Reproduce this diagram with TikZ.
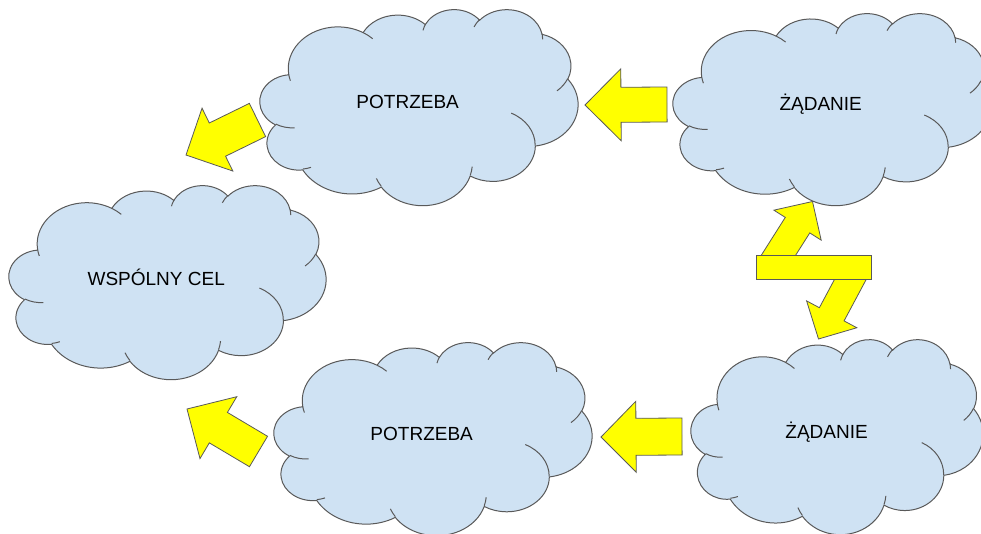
\documentclass[tikz,border=0pt]{standalone}
\usepackage{fontspec}
\setmainfont{Liberation Sans}
\usetikzlibrary{calc}
\definecolor{cloudfill}{HTML}{CFE2F3}
\definecolor{outline}{HTML}{595959}
\definecolor{arrowfill}{HTML}{FFFF00}
\tikzset{
  cloudshape/.style={fill=cloudfill, draw=outline, line width=1pt},
  cloudinner/.style={draw=outline, line width=1pt},
  cloudtext/.style={font=\fontsize{19}{22}\selectfont, text=black, inner sep=0pt},
  blockarrow/.style={fill=arrowfill, draw=outline, line width=0.8pt, line join=miter},
  barbox/.style={fill=arrowfill, draw=outline, line width=0.8pt, inner sep=0pt},
}
% arc of the cloud outline: x radius, y radius, visual start angle, sweep
\newcommand\carc[4]{arc[x radius=#1, y radius=#2,
  start angle={atan2(#1*sin(#3),#2*cos(#3))},
  delta angle={mod(atan2(#1*sin(#3+#4),#2*cos(#3+#4))-atan2(#1*sin(#3),#2*cos(#3))+720,360)}]}
% cloud: name, left, top, width, height, text
\newcommand\cloudat[6]{%
  \pgfmathsetmacro\cloudw{#4/43.2}%
  \pgfmathsetmacro\cloudh{#5/43.2}%
  \begin{scope}[shift={(#2,#3)}, x=\cloudw pt, y=-\cloudh pt]
    \path[cloudshape] (3.900,14.370)
      \carc{6.753}{9.190}{-190.48748}{123.78053}
      \carc{5.333}{7.267}{-144.10238}{89.94523}
      \carc{4.365}{5.945}{-145.80792}{99.72302}
      \carc{4.857}{6.595}{-130.98607}{117.24173}
      \carc{5.333}{7.273}{-78.70888}{109.02692}
      \carc{6.775}{9.220}{-46.26725}{130.26900}
      \carc{5.785}{7.867}{0.62502}{114.03333}
      \carc{6.752}{9.215}{22.45160}{115.17255}
      \carc{7.720}{10.543}{66.24263}{75.71102}
      \carc{4.360}{5.918}{-274.94208}{146.73557}
      \carc{4.345}{5.945}{-246.82850}{152.51885}
      -- cycle;
    \path[cloudinner]
      (4.693,26.177) \carc{4.345}{5.945}{86.74200}{26.42950}
      (6.928,34.899) \carc{4.360}{5.918}{73.61047}{11.44747}
      (16.478,39.090) \carc{6.752}{9.215}{137.62415}{14.08110}
      (28.827,34.751) \carc{6.752}{9.215}{6.45327}{15.99835}
      (34.129,22.954) \carc{5.785}{7.867}{-70.29235}{70.91740}
      (41.798,15.354) \carc{5.333}{7.273}{30.31803}{27.75150}
      (38.324,5.426) \carc{4.857}{6.595}{-13.74433}{14.85890}
      (29.078,3.952) \carc{4.857}{6.595}{-149.18145}{18.19537}
      (22.141,4.720) \carc{4.365}{5.945}{-163.49427}{17.68635}
      (14.000,5.192) \carc{6.753}{9.190}{-66.70695}{12.31935}
      (4.127,15.789) \carc{6.753}{9.190}{157.65435}{11.85817};
  \end{scope}
  \node[cloudtext] (#1) at ({#2+0.4644*#4},{#3+0.4768*#5}) {#6};
}
% block arrow: tail, tip, shaft half width, head half width, head length
\newcommand\blockarrowfrom[5]{%
  \coordinate (ba-b) at ($(#2)!#5!(#1)$);
  \draw[blockarrow] (#2)
    -- ($(ba-b)!#4!90:(#2)$) -- ($(ba-b)!#3!90:(#2)$)
    -- ($(#1)!#3!90:(ba-b)$) -- ($(#1)!#3!-90:(ba-b)$)
    -- ($(ba-b)!#3!-90:(#2)$) -- ($(ba-b)!#4!-90:(#2)$) -- cycle;
}
\begin{document}
\begin{tikzpicture}[x=1pt, y=-1pt]
  \useasboundingbox (0,0) rectangle (981,534);
  \clip (0,0) rectangle (981,534);

  \cloudat{pot1}{260}{9}{318}{196}{POTRZEBA}
  \cloudat{zad1}{673}{13}{318}{192}{ŻĄDANIE}
  \cloudat{cel}{9}{185}{317}{194}{WSPÓLNY CEL}
  \cloudat{pot2}{274}{342}{318}{193}{POTRZEBA}
  \cloudat{zad2}{691}{339}{292}{195}{ŻĄDANIE}

  \coordinate (a1t) at (667,104.5);  \coordinate (a1h) at (585,105);
  \coordinate (a2t) at (257.5,120);  \coordinate (a2h) at (186,155);
  \coordinate (a3t) at (682,436.5);  \coordinate (a3h) at (601,437);
  \coordinate (a4t) at (258.5,451.5); \coordinate (a4h) at (187,409);
  \coordinate (z1t) at (771,267);    \coordinate (z1h) at (812.5,201.5);
  \coordinate (z2t) at (857,267);    \coordinate (z2h) at (818.5,339);

  \blockarrowfrom{a1t}{a1h}{17.5pt}{36pt}{36pt}
  \blockarrowfrom{a2t}{a2h}{18.5pt}{35pt}{35pt}
  \blockarrowfrom{a3t}{a3h}{18.5pt}{35.5pt}{35pt}
  \blockarrowfrom{a4t}{a4h}{17.7pt}{36pt}{36.5pt}
  \blockarrowfrom{z1t}{z1h}{14.5pt}{28pt}{28pt}
  \blockarrowfrom{z2t}{z2h}{14pt}{28.5pt}{28pt}

  \node[barbox, minimum width=115pt, minimum height=24.5pt] (bar) at (813.5,267.25) {};
\end{tikzpicture}
\end{document}
